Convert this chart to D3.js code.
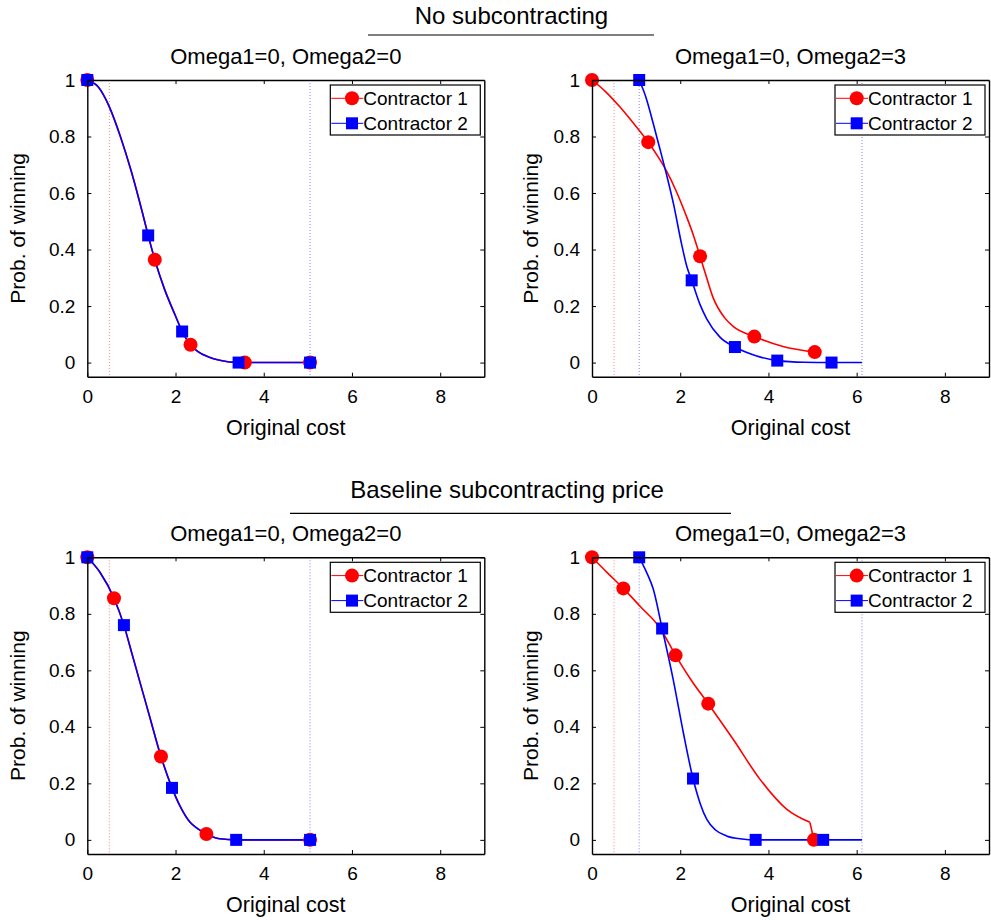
<!DOCTYPE html>
<html><head><meta charset="utf-8">
<script src="https://cdn.jsdelivr.net/npm/d3@7"></script>
<style>
body{margin:0;background:#fff}
svg{display:block}
text{font-family:"Liberation Sans",Arial,Helvetica,sans-serif;fill:#000}
</style>
</head><body><svg id="c" width="991" height="920"></svg>
<script>
// ---------- labels ----------
const xTicks = [0, 2, 4, 6, 8];
const yTicks = [0, 0.2, 0.4, 0.6, 0.8, 1];
const seriesNames = ["Contractor 1", "Contractor 2"];
const rowTitles = ["No subcontracting", "Baseline subcontracting price"];
const panelTitles = ["Omega1=0, Omega2=0", "Omega1=0, Omega2=3", "Omega1=0, Omega2=0", "Omega1=0, Omega2=3"];
const xLabel = "Original cost";
const yLabel = "Prob. of winning";

// ---------- data: [cost, prob] ----------
// Top-left: no subcontracting, Omega2=0
const tlC1Curve = [[0,1],[0.25,0.975],[0.5,0.905],[0.75,0.80],[1.0,0.675],[1.25,0.53],[1.38,0.45],[1.53,0.364],[1.75,0.26],[2.0,0.165],[2.15,0.11],[2.34,0.063],[2.5,0.04],[2.75,0.02],[3.0,0.008],[3.43,0.0],[3.57,0],[5.05,0]];
const tlC1Marks = [[0,1],[1.53,0.364],[2.34,0.063],[3.57,0],[5.05,0]];
const tlC2Curve = [[0,1],[0.25,0.975],[0.5,0.905],[0.75,0.80],[1.0,0.675],[1.25,0.53],[1.38,0.45],[1.53,0.364],[1.75,0.26],[2.0,0.165],[2.15,0.11],[2.34,0.063],[2.5,0.04],[2.75,0.02],[3.0,0.008],[3.43,0.0],[3.57,0],[5.05,0]];
const tlC2Marks = [[0,1],[1.38,0.45],[2.15,0.11],[3.43,0],[5.05,0]];
const tlRefC1 = [0.5];
const tlRefC2 = [5.05];

// Top-right: no subcontracting, Omega2=3
const trC1Curve = [[0,1],[0.3,0.96],[0.63,0.905],[1.0,0.835],[1.275,0.78],[1.5,0.728],[1.7,0.675],[1.9,0.61],[2.14,0.518],[2.3,0.45],[2.45,0.376],[2.6,0.30],[2.75,0.228],[3.0,0.16],[3.2,0.128],[3.68,0.092],[4.33,0.057],[5.05,0.037]];
const trC1Marks = [[0,1],[1.275,0.78],[2.45,0.376],[3.68,0.092],[5.05,0.037]];
const trC2Curve = [[1.07,1],[1.22,0.94],[1.39,0.845],[1.55,0.75],[1.69,0.665],[1.85,0.56],[2.03,0.42],[2.15,0.34],[2.26,0.291],[2.45,0.205],[2.6,0.155],[2.9,0.09],[3.24,0.055],[3.7,0.025],[4.2,0.007],[4.8,0.001],[5.43,0],[6.12,0]];
const trC2Marks = [[1.07,1],[2.26,0.291],[3.24,0.055],[4.2,0.007],[5.43,0]];
const trRefC1 = [0.5];
const trRefC2 = [1.07, 6.12];

// Bottom-left: baseline subcontracting price, Omega2=0
const blC1Curve = [[0,1],[0.29,0.946],[0.605,0.855],[0.83,0.76],[1.0,0.666],[1.19,0.56],[1.4,0.444],[1.67,0.295],[1.92,0.184],[2.1,0.12],[2.33,0.062],[2.5,0.04],[2.7,0.021],[3.0,0.004],[3.375,0],[5.05,0]];
const blC1Marks = [[0,1],[0.605,0.855],[1.67,0.295],[2.7,0.021],[5.05,0]];
const blC2Curve = [[0,1],[0.29,0.946],[0.605,0.855],[0.83,0.76],[1.0,0.666],[1.19,0.56],[1.4,0.444],[1.67,0.295],[1.92,0.184],[2.1,0.12],[2.33,0.062],[2.5,0.04],[2.7,0.021],[3.0,0.004],[3.375,0],[5.05,0]];
const blC2Marks = [[0,1],[0.83,0.76],[1.92,0.184],[3.375,0],[5.05,0]];
const blRefC1 = [0.5];
const blRefC2 = [5.05];

// Bottom-right: baseline subcontracting price, Omega2=3
const brC1Curve = [[0,1],[0.35,0.945],[0.71,0.89],[1.1,0.825],[1.54,0.75],[1.895,0.653],[2.25,0.565],[2.635,0.482],[3.2,0.356],[3.805,0.215],[4.41,0.109],[4.94,0.062]];
const brC1Tail = [[4.94,0.062],[5.03,0]];
const brC1Marks = [[0,1],[0.71,0.89],[1.895,0.653],[2.635,0.482],[5.03,0]];
const brC2Curve = [[1.07,1],[1.24,0.946],[1.39,0.887],[1.59,0.748],[1.84,0.568],[2.07,0.38],[2.29,0.217],[2.45,0.13],[2.6,0.073],[2.8,0.035],[3.05,0.014],[3.4,0.003],[3.71,0],[5.24,0],[6.12,0]];
const brC2Marks = [[1.07,1],[1.59,0.748],[2.29,0.217],[3.71,0],[5.24,0]];
const brRefC1 = [0.5];
const brRefC2 = [1.07, 6.12];

// ---------- layout ----------
const W = 397, H = 296.7;
const panels = [
  {x0:87.3, y0:80,    title:panelTitles[0], c1:tlC1Curve, t1:[], m1:tlC1Marks, c2:tlC2Curve, m2:tlC2Marks, r1:tlRefC1, r2:tlRefC2, ylx:25},
  {x0:592,  y0:80,    title:panelTitles[1], c1:trC1Curve, t1:[], m1:trC1Marks, c2:trC2Curve, m2:trC2Marks, r1:trRefC1, r2:trRefC2, ylx:538},
  {x0:87.3, y0:557.3, title:panelTitles[2], c1:blC1Curve, t1:[], m1:blC1Marks, c2:blC2Curve, m2:blC2Marks, r1:blRefC1, r2:blRefC2, ylx:25},
  {x0:592,  y0:557.3, title:panelTitles[3], c1:brC1Curve, t1:brC1Tail, m1:brC1Marks, c2:brC2Curve, m2:brC2Marks, r1:brRefC1, r2:brRefC2, ylx:538}
];
const RED = "#ff0000", BLUE = "#0000ff";

const svg = d3.select("#c");
svg.append("rect").attr("width",991).attr("height",920).attr("fill","#fff");

// Row titles with rule lines
const rowTitleSpecs = [
  {text:rowTitles[0], cx:511.5, y:24,  ly:35,    lx1:368, lx2:654},
  {text:rowTitles[1], cx:507,   y:498, ly:513.3, lx1:290, lx2:731}
];
rowTitleSpecs.forEach(s => {
  svg.append("text").attr("x",s.cx).attr("y",s.y).attr("text-anchor","middle")
    .style("font-size","24px").text(s.text);
  svg.append("line").attr("x1",s.lx1).attr("x2",s.lx2).attr("y1",s.ly).attr("y2",s.ly)
    .attr("stroke","#000").attr("stroke-width",1.2);
});

panels.forEach(p => {
  const x = d3.scaleLinear().domain([0,9]).range([0,W]);
  const y = d3.scaleLinear().domain([-0.05,1]).range([H,0]);
  const g = svg.append("g").attr("transform",`translate(${p.x0},${p.y0})`);

  // reference dotted lines
  p.r1.forEach(v => g.append("line").attr("x1",x(v)).attr("x2",x(v)).attr("y1",0).attr("y2",H)
      .attr("stroke",RED).attr("stroke-width",0.8).attr("stroke-dasharray","1,2").attr("opacity",0.6));
  p.r2.forEach(v => g.append("line").attr("x1",x(v)).attr("x2",x(v)).attr("y1",0).attr("y2",H)
      .attr("stroke",BLUE).attr("stroke-width",0.8).attr("stroke-dasharray","1,2").attr("opacity",0.6));

  const line = d3.line().x(d=>x(d[0])).y(d=>y(d[1])).curve(d3.curveMonotoneX);
  const lineLin = d3.line().x(d=>x(d[0])).y(d=>y(d[1]));
  g.append("path").datum(p.c1).attr("d",line).attr("fill","none").attr("stroke",RED).attr("stroke-width",1.6);
  if (p.t1.length) g.append("path").datum(p.t1).attr("d",lineLin).attr("fill","none").attr("stroke",RED).attr("stroke-width",1.6);
  g.append("path").datum(p.c2).attr("d",line).attr("fill","none").attr("stroke",BLUE).attr("stroke-width",1.6);

  g.selectAll("circle.m1").data(p.m1).enter().append("circle")
    .attr("cx",d=>x(d[0])).attr("cy",d=>y(d[1])).attr("r",7).attr("fill",RED);
  g.selectAll("rect.m2").data(p.m2).enter().append("rect")
    .attr("x",d=>x(d[0])-6).attr("y",d=>y(d[1])-6).attr("width",12).attr("height",12).attr("fill",BLUE);

  // axes (box with inward ticks)
  const styleAxis = sel => {
    sel.select(".domain").attr("stroke","#000").attr("stroke-width",1.4);
    sel.selectAll(".tick line").attr("stroke","#000").attr("stroke-width",1);
    sel.selectAll(".tick text").style("font-size","19px").style("font-family",'"Liberation Sans",Arial,sans-serif').attr("fill","#000");
  };
  const fmt = d => String(d);
  g.append("g").attr("transform",`translate(0,${H})`)
    .call(d3.axisBottom(x).tickValues(xTicks).tickSize(-4).tickSizeOuter(0).tickPadding(13).tickFormat(fmt)).call(styleAxis);
  g.append("g")
    .call(d3.axisTop(x).tickValues(xTicks).tickSize(-4).tickSizeOuter(0).tickFormat("")).call(styleAxis);
  g.append("g")
    .call(d3.axisLeft(y).tickValues(yTicks).tickSize(-4).tickSizeOuter(0).tickPadding(12).tickFormat(fmt)).call(styleAxis);
  g.append("g").attr("transform",`translate(${W},0)`)
    .call(d3.axisRight(y).tickValues(yTicks).tickSize(-4).tickSizeOuter(0).tickFormat("")).call(styleAxis);

  // titles & labels
  g.append("text").attr("x",W/2).attr("y",-16).attr("text-anchor","middle").style("font-size","22px").text(p.title);
  g.append("text").attr("x",W/2).attr("y",H+58.5).attr("text-anchor","middle").style("font-size","21.5px").text(xLabel);
  svg.append("text").attr("transform",`translate(${p.ylx},${p.y0+H/2}) rotate(-90)`)
    .attr("text-anchor","middle").style("font-size","21px").text(yLabel);

  // legend
  const lg = g.append("g").attr("transform",`translate(${W-154},5)`);
  lg.append("rect").attr("width",150).attr("height",50).attr("fill","#fff").attr("stroke","#000").attr("stroke-width",1.2);
  const rows = [{name:seriesNames[0], col:RED, shape:"c", cy:13.3},{name:seriesNames[1], col:BLUE, shape:"s", cy:38.3}];
  rows.forEach(r => {
    lg.append("line").attr("x1",1).attr("x2",33).attr("y1",r.cy).attr("y2",r.cy).attr("stroke",r.col).attr("stroke-width",1);
    if (r.shape==="c") lg.append("circle").attr("cx",21.7).attr("cy",r.cy).attr("r",7).attr("fill",r.col);
    else lg.append("rect").attr("x",15.7).attr("y",r.cy-6).attr("width",12).attr("height",12).attr("fill",r.col);
    lg.append("text").attr("x",33).attr("y",r.cy).attr("dy","0.36em").style("font-size","19px").text(r.name);
  });
});
</script>
</body></html>
